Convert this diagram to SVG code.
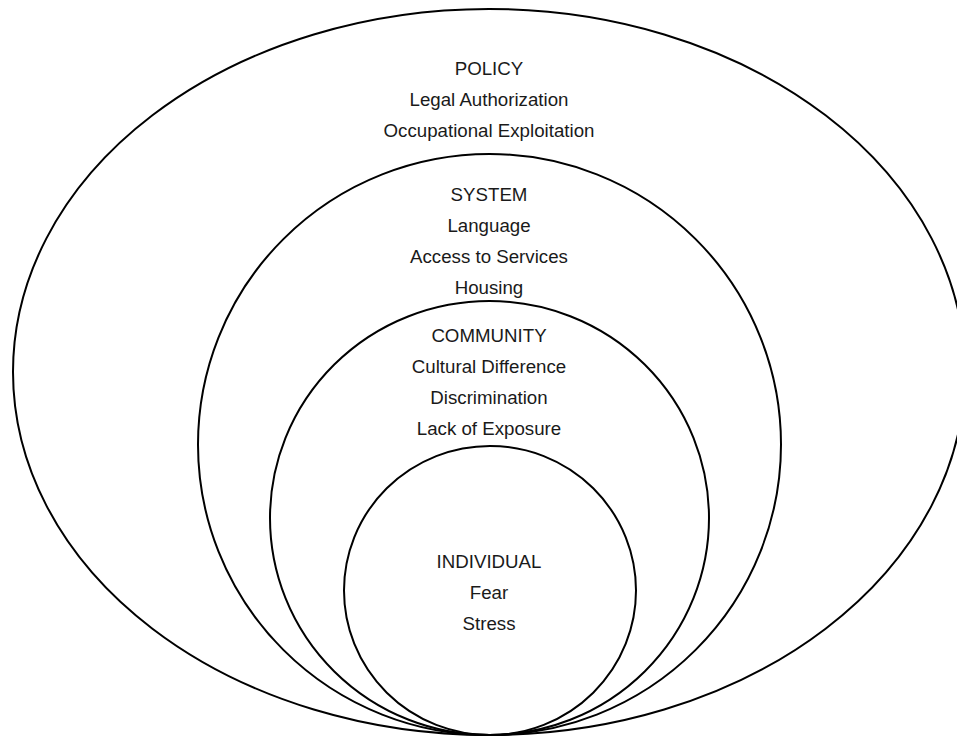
<svg xmlns="http://www.w3.org/2000/svg" width="957" height="738" viewBox="0 0 957 738">
  <style>
    .ring { fill: none; stroke: #000; stroke-width: 2; }
    .lbl { font-family: "Liberation Sans", Arial, sans-serif; font-size: 18.7px; fill: #1a1a1a; text-anchor: middle; }
  </style>
  <rect x="0" y="0" width="957" height="738" fill="#fff"/>
  <g id="policy">
    <ellipse class="ring" cx="489" cy="372" rx="476" ry="363"/>
    <text class="lbl" x="489" y="75">POLICY</text>
    <text class="lbl" x="489" y="106">Legal Authorization</text>
    <text class="lbl" x="489" y="137">Occupational Exploitation</text>
  </g>
  <g id="system">
    <ellipse class="ring" cx="489.5" cy="444.5" rx="291.5" ry="290.5"/>
    <text class="lbl" x="489" y="201">SYSTEM</text>
    <text class="lbl" x="489" y="232">Language</text>
    <text class="lbl" x="489" y="263">Access to Services</text>
    <text class="lbl" x="489" y="294">Housing</text>
  </g>
  <g id="community">
    <ellipse class="ring" cx="489.5" cy="518" rx="219.5" ry="217"/>
    <text class="lbl" x="489" y="342">COMMUNITY</text>
    <text class="lbl" x="489" y="373">Cultural Difference</text>
    <text class="lbl" x="489" y="404">Discrimination</text>
    <text class="lbl" x="489" y="435">Lack of Exposure</text>
  </g>
  <g id="individual">
    <ellipse class="ring" cx="490" cy="590.5" rx="146" ry="144.5"/>
    <text class="lbl" x="489" y="568">INDIVIDUAL</text>
    <text class="lbl" x="489" y="599">Fear</text>
    <text class="lbl" x="489" y="630">Stress</text>
  </g>
  <g id="connectors"></g>
</svg>
